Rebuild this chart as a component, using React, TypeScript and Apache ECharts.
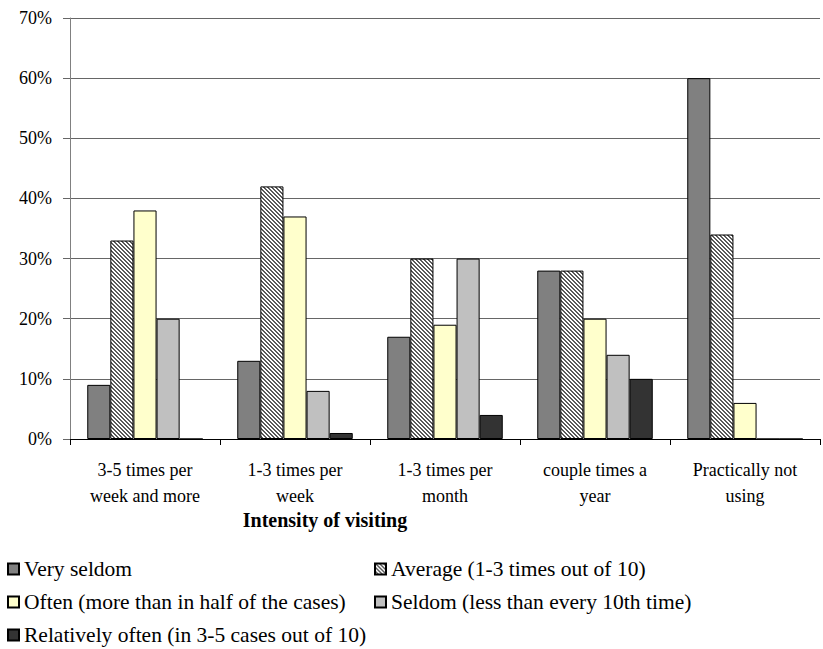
import React, { useEffect, useRef } from 'react';
import * as echarts from 'echarts';

const categories = [
  '3-5 times per\nweek and more',
  '1-3 times per\nweek',
  '1-3 times per\nmonth',
  'couple times a\nyear',
  'Practically not\nusing',
];
const yTicks = [0, 10, 20, 30, 40, 50, 60, 70];
const verySeldom = [9, 13, 17, 28, 60];
const average = [33, 42, 30, 28, 34];
const often = [38, 37, 19, 20, 6];
const seldom = [20, 8, 30, 14, 0];
const relativelyOften = [0, 1, 4, 10, 0];

const names = [
  'Very seldom',
  'Average (1-3 times out of 10)',
  'Often (more than in half of the cases)',
  'Seldom (less than every 10th time)',
  'Relatively often (in 3-5 cases out of 10)',
];

const FONT = 'Liberation Serif';

function makeHatch(): HTMLCanvasElement {
  const c = document.createElement('canvas');
  c.width = 4;
  c.height = 4;
  const ctx = c.getContext('2d')!;
  ctx.fillStyle = '#ffffff';
  ctx.fillRect(0, 0, 4, 4);
  ctx.fillStyle = '#5a5a5a';
  for (let i = 0; i < 4; i++) {
    ctx.fillRect(i, i, 1, 1);
    ctx.fillRect((i + 1) % 4, i, 1, 1);
  }
  return c;
}

const legendPos = [
  { left: 7, top: 557 },
  { left: 374, top: 557 },
  { left: 7, top: 590 },
  { left: 374, top: 590 },
  { left: 7, top: 623 },
];

export default function App() {
  const ref = useRef<HTMLDivElement>(null);
  useEffect(() => {
    if (!ref.current) return;
    const chart = echarts.init(ref.current, null, { renderer: 'svg' });
    const hatch = { image: makeHatch(), repeat: 'repeat' };
    const colors: any[] = ['#808080', hatch, '#FFFFCC', '#C0C0C0', '#333333'];
    const data = [verySeldom, average, often, seldom, relativelyOften];
    const series = names.map((n, i) => ({
      name: n,
      type: 'bar',
      data: data[i],
      barGap: '0%',
      barCategoryGap: '23%',
      itemStyle: { color: colors[i], borderColor: '#000', borderWidth: 1 },
    }));
    const legends = names.map((n, i) => ({
      data: [n],
      orient: 'horizontal',
      left: legendPos[i].left,
      top: legendPos[i].top,
      itemWidth: 11,
      itemHeight: 11,
      itemGap: 0,
      padding: 0,
      icon: 'rect',
      textStyle: { fontSize: 21.5, lineHeight: 24, color: '#000', fontFamily: FONT },
    }));
    chart.setOption({
      animation: false,
      textStyle: { fontFamily: FONT },
      grid: { left: 70, top: 18, width: 750, height: 421 },
      xAxis: {
        type: 'category',
        data: categories,
        axisLine: { lineStyle: { color: '#000', width: 1 } },
        axisTick: { show: true, length: 6, lineStyle: { color: '#000' } },
        axisLabel: {
          interval: 0,
          margin: 18,
          fontSize: 18,
          lineHeight: 26,
          color: '#000',
          fontFamily: FONT,
        },
      },
      yAxis: {
        type: 'value',
        min: yTicks[0],
        max: yTicks[yTicks.length - 1],
        interval: 10,
        axisLine: { show: true, lineStyle: { color: '#808080' } },
        axisTick: { show: true, length: 7, lineStyle: { color: '#666' } },
        splitLine: { lineStyle: { color: '#666', width: 1 } },
        axisLabel: {
          formatter: '{value}%',
          fontSize: 18,
          color: '#000',
          margin: 18,
          fontFamily: FONT,
        },
      },
      legend: legends,
      graphic: [
        {
          type: 'text',
          x: 325,
          y: 520,
          style: {
            text: 'Intensity of visiting',
            font: `bold 20px ${FONT}`,
            fill: '#000',
            textAlign: 'center',
            textVerticalAlign: 'middle',
          },
        },
      ],
      series,
    });
    return () => chart.dispose();
  }, []);
  return <div ref={ref} style={{ width: 823, height: 649, position: 'absolute', left: 0, top: 0 }} />;
}
